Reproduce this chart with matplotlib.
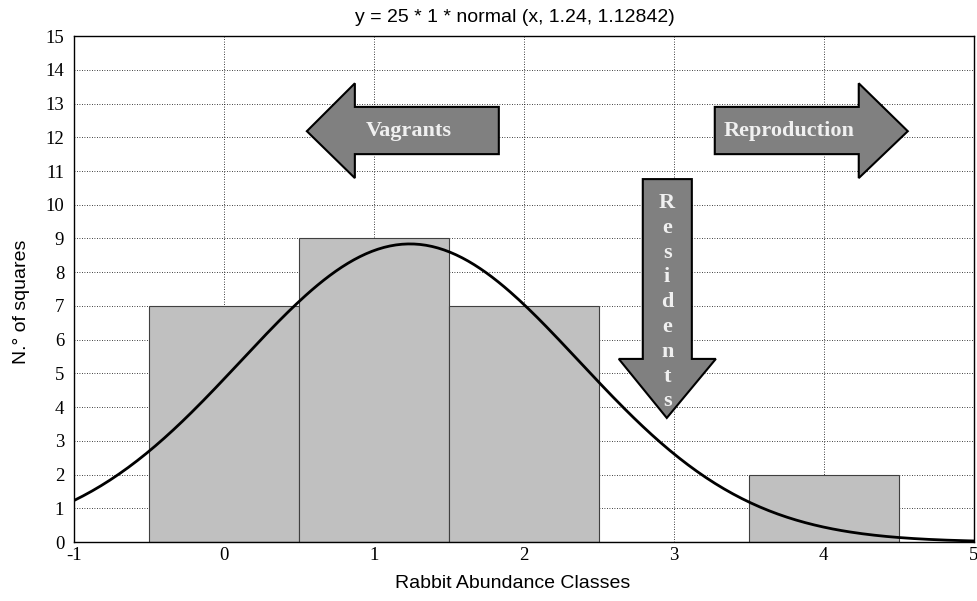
import numpy as np
import matplotlib.pyplot as plt
from matplotlib.patches import Polygon

plt.rcParams['axes.unicode_minus'] = False

# данные гистограммы
classes = [0, 1, 2, 3, 4]
counts = [7, 9, 7, 0, 2]

# параметры нормальной кривой из заголовка
n_total = 25
bin_w = 1
mu = 1.24
sd = 1.12842

xs = np.linspace(-1, 5, 300)
ys = n_total * bin_w * np.exp(-0.5 * ((xs - mu) / sd) ** 2) / (sd * np.sqrt(2 * np.pi))

fig = plt.figure(figsize=(9.77, 6.01), dpi=100)
ax = fig.add_axes([0.0757, 0.098, 0.921, 0.842])

ax.bar(classes, counts, width=1.0, color='#c0c0c0', edgecolor='#404040', linewidth=0.8, zorder=2)
ax.plot(xs, ys, color='black', linewidth=2, zorder=3)

ax.set_xlim(-1, 5)
ax.set_ylim(0, 15)
ax.set_xticks(range(-1, 6))
ax.set_yticks(range(0, 16))
ax.grid(True, color='black', linestyle=(0, (1, 2)), linewidth=0.6, zorder=0)
ax.set_axisbelow(True)
ax.tick_params(axis='x', length=0, pad=3.5)
ax.tick_params(axis='y', length=0, pad=7)
for lab in ax.get_xticklabels() + ax.get_yticklabels():
    lab.set_family('Liberation Serif')
    lab.set_fontsize(13.5)
for sp in ax.spines.values():
    sp.set_linewidth(1.0)

sans = dict(family='Liberation Sans', fontsize=14)
fig.text(515 / 977, 1 - 17 / 601, 'y = 25 * 1 * normal (x, 1.24, 1.12842)', ha='center', va='center', **sans)
fig.text(513 / 977, 1 - 584 / 601, 'Rabbit Abundance Classes', ha='center', va='center', **sans)
fig.text(22 / 977, 1 - 302 / 601, 'N.° of squares', ha='center', va='center', rotation=90, **sans)

# стрелки
arrow_kw = dict(facecolor='#808080', edgecolor='black', linewidth=1.5, zorder=4)
vagrants = [(0.553, 12.18), (0.873, 13.6), (0.873, 12.9), (1.833, 12.9),
            (1.833, 11.5), (0.873, 11.5), (0.873, 10.79)]
reproduction = [(4.56, 12.18), (4.233, 13.6), (4.233, 12.9), (3.273, 12.9),
                (3.273, 11.5), (4.233, 11.5), (4.233, 10.79)]
residents = [(2.953, 3.68), (2.633, 5.43), (2.793, 5.43), (2.793, 10.76),
             (3.12, 10.76), (3.12, 5.43), (3.28, 5.43)]
for pts in (vagrants, reproduction, residents):
    ax.add_patch(Polygon(pts, closed=True, **arrow_kw))

txt_kw = dict(family='Liberation Serif', fontweight='bold', fontsize=16,
              color='#f0f0f0', ha='center', va='center', zorder=5)
ax.text(1.233, 12.18, 'Vagrants', **txt_kw)
ax.text(3.77, 12.18, 'Reproduction', **txt_kw)
word = 'Residents'
for i, ch in enumerate(word):
    ax.text(2.955, 10.05 - i * 0.735, ch, **txt_kw)

fig.savefig('out.png', dpi=100)
